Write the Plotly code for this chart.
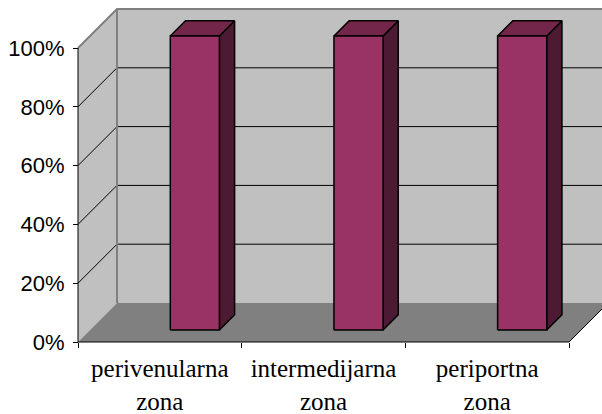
import plotly.graph_objects as go

# Share of samples per liver zone (percent)
zones = ["perivenularna<br>zona", "intermedijarna<br>zona", "periportna<br>zona"]
coverage = [100, 100, 100]
y_ticks = [0, 20, 40, 60, 80, 100]
y_tick_labels = ["0%", "20%", "40%", "60%", "80%", "100%"]

# Canvas and plot-area geometry (pixels)
W, H = 602, 414
M_L, M_R, M_T, M_B = 60, 0, 0, 40
PLOT_W, PLOT_H = W - M_L - M_R, H - M_T - M_B
ORIGIN_X, ORIGIN_Y = 78, 342          # front-left corner of the floor
CAT_PX = (569 - ORIGIN_X) / len(zones)  # width of one category slot
VAL_PX = (ORIGIN_Y - 48) / 100.0        # pixels per percentage point
DEPTH_PX = 39                           # oblique depth of the floor / walls

x_range = [-0.5 - (ORIGIN_X - M_L) / CAT_PX, -0.5 + (W - M_R - ORIGIN_X) / CAT_PX]
y_range = [-(PLOT_H - ORIGIN_Y) / VAL_PX, ORIGIN_Y / VAL_PX]
DX = DEPTH_PX / CAT_PX
DY = DEPTH_PX / VAL_PX


def proj(c, v, f):
    """Oblique projection of (category, value, depth fraction) onto the axes."""
    return c + f * DX, v + f * DY


def poly(points, fill, line_color=None, line_width=0):
    xs, ys = zip(*[proj(*p) for p in points])
    xs, ys = list(xs) + [xs[0]], list(ys) + [ys[0]]
    return go.Scatter(
        x=xs, y=ys, mode="lines", fill="toself", fillcolor=fill,
        line=dict(color=line_color or fill, width=line_width),
        hoverinfo="skip", showlegend=False,
    )


def seg(points, color, width):
    xs, ys = zip(*[proj(*p) for p in points])
    return go.Scatter(
        x=list(xs), y=list(ys), mode="lines",
        line=dict(color=color, width=width),
        hoverinfo="skip", showlegend=False,
    )


LEFT, RIGHT = -0.5, len(zones) - 0.5
TOP = 100
WALL = "#c0c0c0"
FLOOR = "#808080"
EDGE = "#808080"

traces = []
# back wall, side wall, floor
traces.append(poly([(LEFT, 0, 1), (RIGHT + 1, 0, 1), (RIGHT + 1, TOP, 1), (LEFT, TOP, 1)], WALL))
traces.append(poly([(LEFT, 0, 0), (LEFT, 0, 1), (LEFT, TOP, 1), (LEFT, TOP, 0)], WALL))
traces.append(poly([(LEFT, 0, 0), (RIGHT, 0, 0), (RIGHT, 0, 1), (LEFT, 0, 1)], FLOOR))

# gridlines on the back and side walls
for v in y_ticks[1:-1]:
    traces.append(seg([(LEFT, v, 0), (LEFT, v, 1), (RIGHT + 1, v, 1)], "#000000", 1))

# wall edges
traces.append(seg([(LEFT, TOP, 0), (LEFT, TOP, 1), (RIGHT + 1, TOP, 1)], EDGE, 2))
traces.append(seg([(LEFT, 0, 1), (LEFT, TOP, 1)], EDGE, 2))

# axis lines and the floor's right edge
traces.append(seg([(LEFT, TOP, 0), (LEFT, 0, 0), (RIGHT, 0, 0), (RIGHT, 0, 1)], "#000000", 1))

# 3D columns
BAR_W = 0.30
BAR_SHIFT = 0.14
F1, F2 = 0.31, 0.70
FRONT, TOPC, SIDE = "#993366", "#732649", "#4d1a33"
for i, val in enumerate(coverage):
    x0 = i + BAR_SHIFT - BAR_W / 2
    x1 = i + BAR_SHIFT + BAR_W / 2
    traces.append(poly([(x1, 0, F1), (x1, 0, F2), (x1, val, F2), (x1, val, F1)], SIDE, "#000000", 1.5))
    traces.append(poly([(x0, val, F1), (x1, val, F1), (x1, val, F2), (x0, val, F2)], TOPC, "#000000", 1.5))
    traces.append(poly([(x0, 0, F1), (x1, 0, F1), (x1, val, F1), (x0, val, F1)], FRONT, "#000000", 1.5))

fig = go.Figure(traces)
fig.update_layout(
    width=W, height=H,
    margin=dict(l=M_L, r=M_R, t=M_T, b=M_B, pad=0),
    paper_bgcolor="white", plot_bgcolor="white",
    showlegend=False, hovermode=False,
    xaxis=dict(
        range=x_range, anchor="free", position=(PLOT_H - ORIGIN_Y) / PLOT_H,
        showgrid=False, zeroline=False, showline=False,
        tickmode="array", tickvals=list(range(len(zones))), ticktext=zones,
        ticks="", ticklabelstandoff=9,
        tickfont=dict(family="Liberation Serif, Times New Roman, serif", size=25, color="black"),
        minor=dict(tickmode="array", tickvals=[k - 0.5 for k in range(len(zones) + 1)],
                   ticks="outside", ticklen=5, tickcolor="black", tickwidth=1, showgrid=False),
        fixedrange=True,
    ),
    yaxis=dict(
        range=y_range, anchor="free", position=(ORIGIN_X - M_L) / PLOT_W,
        showgrid=False, zeroline=False, showline=False,
        tickmode="array", tickvals=y_ticks, ticktext=y_tick_labels,
        ticks="outside", ticklen=5, tickcolor="black", tickwidth=1, ticklabelstandoff=4,
        tickfont=dict(family="Liberation Sans, Arial, sans-serif", size=22, color="black"),
        fixedrange=True,
    ),
)

fig.write_html("out.html", config={"displayModeBar": False})
